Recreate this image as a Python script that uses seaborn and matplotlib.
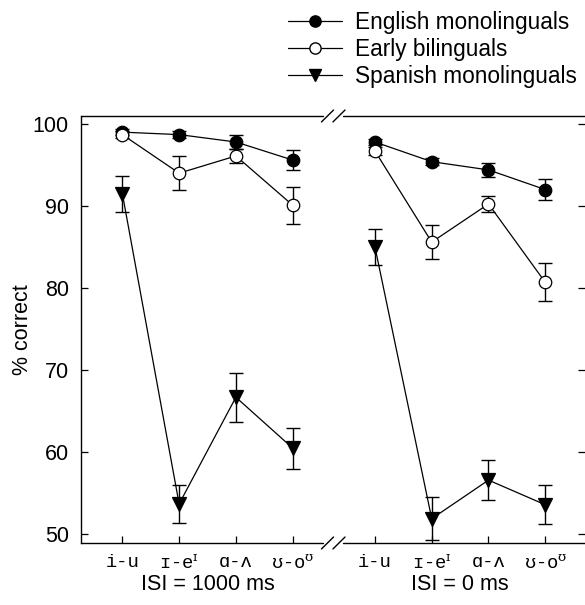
import numpy as np
import pandas as pd
import matplotlib
matplotlib.use('Agg')
import matplotlib.pyplot as plt
import matplotlib.transforms as mtransforms
from matplotlib.lines import Line2D
import seaborn as sns

# Dados
contrasts = ['i-u', 'ɪ-e$^{\\mathrm{ɪ}}$', 'ɑ-ʌ', 'ʊ-o$^{\\mathrm{ʊ}}$']
conditions = ['ISI = 1000 ms', 'ISI = 0 ms']
groups = ['English monolinguals', 'Early bilinguals', 'Spanish monolinguals']

english_1000 = [99.0, 98.7, 97.8, 95.6]
english_1000_err = [0.4, 0.4, 0.8, 1.2]
english_0 = [97.8, 95.4, 94.4, 92.0]
english_0_err = [0.4, 0.4, 0.85, 1.25]

bilingual_1000 = [98.7, 94.0, 96.1, 90.1]
bilingual_1000_err = [0.4, 2.1, 0.8, 2.25]
bilingual_0 = [96.7, 85.6, 90.25, 80.7]
bilingual_0_err = [0.5, 2.1, 1.0, 2.3]

spanish_1000 = [91.5, 53.7, 66.7, 60.5]
spanish_1000_err = [2.2, 2.3, 3.0, 2.5]
spanish_0 = [85.0, 51.9, 56.6, 53.6]
spanish_0_err = [2.2, 2.6, 2.4, 2.4]

yticks = [50, 60, 70, 80, 90, 100]

rows = []
series = {
    groups[0]: [(english_1000, english_1000_err), (english_0, english_0_err)],
    groups[1]: [(bilingual_1000, bilingual_1000_err), (bilingual_0, bilingual_0_err)],
    groups[2]: [(spanish_1000, spanish_1000_err), (spanish_0, spanish_0_err)],
}
offsets = [0.0, 4.45]
for g, vals in series.items():
    for ci, (v, e) in enumerate(vals):
        for k in range(len(contrasts)):
            rows.append({'group': g, 'cond': conditions[ci], 'x': offsets[ci] + k,
                         'contrast': contrasts[k], 'pct': v[k], 'err': e[k]})
df = pd.DataFrame(rows)

# Estilo
sns.set_style('ticks')
plt.rcParams['font.family'] = ['Liberation Sans', 'DejaVu Sans']
plt.rcParams['text.color'] = 'black'
plt.rcParams['axes.labelcolor'] = 'black'
plt.rcParams['xtick.color'] = 'black'
plt.rcParams['ytick.color'] = 'black'
plt.rcParams['mathtext.fontset'] = 'custom'
plt.rcParams['mathtext.rm'] = 'DejaVu Serif'

FS = 15.5
styles = {
    groups[0]: dict(marker='o', mfc='black', ms=9),
    groups[1]: dict(marker='o', mfc='white', ms=9),
    groups[2]: dict(marker='v', mfc='black', ms=10),
}

fig = plt.figure(figsize=(5.85, 6.05), dpi=100)
ax = fig.add_axes([0.1393, 0.1025, 0.8607, 0.7058])

for g in groups:
    for c in conditions:
        d = df[(df['group'] == g) & (df['cond'] == c)]
        ax.errorbar(d['x'], d['pct'], yerr=d['err'], fmt='none', ecolor='black',
                    elinewidth=1.0, capsize=5, capthick=1.0, zorder=2)
        sns.lineplot(data=d, x='x', y='pct', ax=ax, color='black', lw=0.9,
                     marker=styles[g]['marker'], markerfacecolor=styles[g]['mfc'],
                     markeredgecolor='black', markeredgewidth=0.9,
                     markersize=styles[g]['ms'], zorder=3, legend=False)

xpos = sorted(df['x'].unique())
ax.set_xticks(xpos)
ax.set_xticklabels(contrasts * 2, family=['Liberation Mono', 'DejaVu Sans Mono'],
                   fontsize=13.5)
ax.set_yticks(yticks)
ax.set_yticklabels([str(t) for t in yticks], fontsize=FS)
ax.set_xlim(-0.72, 8.15)
ax.set_ylim(48.94, 100.97)
ax.set_xlabel('')
ax.set_ylabel('% correct', fontsize=FS, labelpad=0)
ax.tick_params(direction='in', length=5, width=0.9, right=True, top=False)
ax.tick_params(axis='x', pad=8)
ax.tick_params(axis='y', pad=9)

# Spines com quebra
for s in ['top', 'bottom', 'right']:
    ax.spines[s].set_visible(False)
ax.spines['left'].set_linewidth(1.0)
ax.spines['left'].set_color('black')
kw = dict(transform=ax.transAxes, color='black', lw=1.0, clip_on=False)
for yy in [0, 1]:
    ax.plot([0, 0.4796], [yy, yy], **kw)
    ax.plot([0.5194, 1.0], [yy, yy], **kw)
    for cx in [0.4886, 0.5114]:
        ax.plot([cx - 0.012, cx + 0.012], [yy - 0.014, yy + 0.014], **kw)

# Condicoes
trans = mtransforms.blended_transform_factory(ax.transData, ax.transAxes)
for ci, c in enumerate(conditions):
    ax.text(offsets[ci] + 1.5, -0.098, c, transform=trans, ha='center', va='center',
            fontsize=FS)

# Legenda
handles = [Line2D([0], [0], color='black', lw=0.9, marker=styles[g]['marker'],
                  markerfacecolor=styles[g]['mfc'], markeredgecolor='black',
                  markersize=styles[g]['ms'] * 0.9) for g in groups]
fig.legend(handles, groups, loc='upper right', bbox_to_anchor=(0.997, 0.993),
           frameon=False, fontsize=16.3, handlelength=2.4, handletextpad=0.55,
           labelspacing=0.18, borderpad=0.2, borderaxespad=0.1)

plt.savefig('out.png', dpi=100)
